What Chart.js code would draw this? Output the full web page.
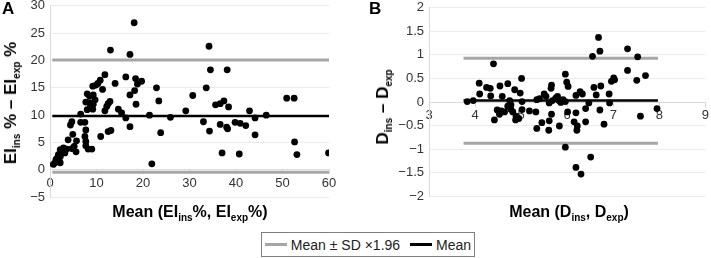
<!DOCTYPE html>
<html>
<head>
<meta charset="utf-8">
<script src="https://cdn.jsdelivr.net/npm/chart.js@4"></script>
<style>
  body { margin: 0; background: #fff; width: 711px; height: 258px; overflow: hidden; position: relative; font-family: "Liberation Sans", Arial, sans-serif; }
  canvas { position: absolute; }
  .lbl { position: absolute; font-weight: bold; color: #000; white-space: nowrap; }
  .panel { font-size: 17px; }
  .ytitle { font-size: 17px; transform: translate(-50%, -50%) rotate(-90deg); }
  .xtitle { font-size: 16px; transform: translate(-50%, -50%); }
  sub { font-size: 10px; vertical-align: -4px; line-height: 0; }
  #legend { position: absolute; left: 261px; top: 232px; width: 212px; height: 23px; border: 1px solid #808080; font-size: 14px; color: #222; display: flex; align-items: center; justify-content: center; }
  .sw { display: inline-block; width: 22px; height: 3px; margin: 0 4px 0 0; }
</style>
</head>
<body>
<canvas id="chartA" style="left:0px; top:-7px; width:345px; height:217px" width="345" height="217"></canvas>
<canvas id="chartB" style="left:360px; top:-5px; width:351px; height:214px" width="351" height="214"></canvas>

<div class="lbl panel" style="left:2px; top:-1px">A</div>
<div class="lbl panel" style="left:369px; top:-1px">B</div>
<div class="lbl ytitle" style="left:11px; top:103px">EI<sub>ins</sub> % – EI<sub>exp</sub> %</div>
<div class="lbl ytitle" style="left:383px; top:107px">D<sub>ins</sub> – D<sub>exp</sub></div>
<div class="lbl xtitle" style="left:190px; top:212px">Mean (EI<sub>ins</sub>%, EI<sub>exp</sub>%)</div>
<div class="lbl xtitle" style="left:569px; top:212px">Mean (D<sub>ins</sub>, D<sub>exp</sub>)</div>
<div id="legend">
  <span class="sw" style="background:#a6a6a6"></span><span>Mean ± SD ×1.96</span>
  <span class="sw" style="background:#000; margin-left:10px"></span><span>Mean</span>
</div>

<script>
// panel A: EI% (mean of both, difference)
const meanEI = [11.8, 10.8, 10.3, 9.2, 9.9, 11.3, 14.0, 16.3,
  8.0, 8.5, 9.3, 7.7, 8.5, 9.3, 9.7, 8.7, 8.0, 9.2,
  12.9, 12.5, 12.2, 11.8, 6.6, 14.7, 15.4, 16.3,
  4.7, 4.4, 6.6, 7.5, 7.7, 4.9, 7.5, 3.9, 5.7, 7.7, 7.7,
  10.9, 12.5, 13.1, 2.9, 2.2, 3.6, 4.7, 5.2, 5.6, 8.2, 9.0,
  2.5, 1.8, 3.2, 1.6, 2.2, 1.3, 1.1, 0.7, 2.2, 13.0,
  18.1, 17.2, 34.2, 34.5, 38.1, 18.4, 19.7, 18.8, 18.2, 17.2, 22.9, 23.4, 18.5, 33.6, 30.7, 29.2,
  21.4, 25.9, 17.2, 23.8, 33.0, 34.3, 35.6, 36.6, 37.4, 38.4, 36.6, 38.0, 38.2, 37.0, 21.9,
  39.8, 40.9, 42.1, 50.9, 52.5, 42.9, 44.1, 46.5, 44.1, 52.6, 40.7, 53.1, 59.9]
const diffEI = [17.4, 16.4, 15.8, 15.3, 15.5, 14.7, 15.8, 17.0,
  13.9, 13.5, 13.7, 12.4, 12.3, 12.0, 12.8, 11.5, 11.0, 11.1,
  12.5, 12.1, 11.6, 10.8, 10.2, 11.1, 10.4, 9.5,
  8.8, 8.2, 8.7, 8.7, 7.3, 6.5, 6.1, 5.5, 5.3, 5.2, 4.4,
  6.1, 7.0, 7.2, 4.0, 3.7, 3.8, 3.9, 4.3, 3.3, 3.8, 3.8,
  3.0, 2.8, 3.1, 2.2, 2.4, 1.9, 1.3, 1.0, 1.3, 21.9,
  26.9, 21.1, 22.6, 18.3, 18.3, 16.7, 16.2, 15.7, 14.5, 13.7, 15.0, 12.6, 12.0, 15.0, 13.6, 10.8,
  10.0, 9.6, 7.9, 6.8, 8.8, 7.1, 11.9, 12.1, 12.6, 11.5, 8.3, 7.8, 7.5, 3.1, 1.1,
  8.7, 8.5, 8.1, 13.1, 13.1, 10.8, 9.5, 10.0, 6.4, 5.1, 2.9, 2.8, 3.1]
const rangeEI = [0.5, 60]
const limitsEI = { upper: 20.1, mean: 9.85, lower: -0.45 }
const ticksEI = { x: [0, 60, 10], y: [-5, 30, 5] }

// panel B: D (mean of both, difference)
const meanD = [3.83, 3.96, 4.40, 4.09, 4.10, 4.25, 4.33, 4.34, 4.54, 4.59, 4.71, 4.86, 4.98, 5.01, 5.02,
  4.75, 4.78, 4.71, 4.78, 4.48, 4.57, 4.64, 4.82, 4.53, 4.89, 4.42, 4.88, 4.95, 5.02,
  5.18, 5.32, 5.34, 5.45, 5.60, 5.61, 5.66, 5.34, 5.40, 5.50, 5.54, 5.65, 5.66, 5.61, 5.68, 5.75,
  5.79, 5.82, 5.86, 5.91, 5.96, 5.83, 5.96, 5.99, 6.02, 6.01, 5.96, 6.19, 6.28, 6.33, 6.19, 6.15,
  6.22, 6.21, 6.40, 6.47, 6.40, 6.58, 6.63, 6.73, 6.71, 6.80, 6.91, 6.92, 6.96, 7.01, 7.03,
  6.55, 6.71, 7.31, 7.31, 7.53, 7.51, 7.70, 7.59, 7.95, 6.51, 6.19, 6.30, 6.68]
const diffD = [0.01, 0.03, 0.81, 0.40, 0.17, 0.31, 0.29, 0.13, 0.34, 0.12, 0.39, 0.26, 0.19, 0.50, 0.01,
  0.03, -0.06, -0.09, -0.16, -0.17, -0.19, -0.21, -0.21, -0.26, -0.30, -0.38, -0.38, -0.35, -0.16,
  -0.19, -0.21, -0.56, -0.44, -0.60, -0.40, -0.26, 0.05, 0.07, 0.17, 0.12, 0.29, 0.36, -0.02, 0.03, 0.08,
  0.12, 0.03, -0.01, 0.05, 0.01, -0.51, 0.59, 0.42, 0.33, -0.21, -0.96, 0.14, 0.22, 0.17, -0.23, -0.42,
  -0.51, -0.60, -0.42, -0.02, -0.14, 0.31, 0.15, 0.34, -0.17, -0.47, 0.17, -0.02, 0.44, 0.51, 0.47,
  0.97, 1.08, 1.13, 0.67, 0.96, 0.46, 0.56, -0.30, -0.14, -1.17, -1.39, -1.53, 1.37]
const rangeD = [3.75, 7.97]
const limitsD = { upper: 0.93, mean: 0.03, lower: -0.875 }
const ticksD = { x: [3, 9, 1], y: [-2, 2, 0.5] }

const font = { family: 'Liberation Sans', size: 13 }
const minus = (v) => v < 0 ? '\u2212' + Math.abs(v) : '' + v

const hline = (y, range, color, width) => ({
  type: 'line',
  data: [{ x: range[0], y: y }, { x: range[1], y: y }],
  borderColor: color,
  borderWidth: width,
  pointRadius: 0,
  fill: false
})

const makeChart = (id, xs, ys, range, limits, t, yWidth, pad) => {
  const points = xs.map((x, i) => ({ x: x, y: ys[i] }))
  const config = {
    type: 'scatter',
    data: {
      datasets: [
        { data: points, backgroundColor: '#000', borderWidth: 0, pointRadius: 3.4, order: 0 },
        Object.assign(hline(limits.upper, range, '#a6a6a6', 3), { order: 1 }),
        Object.assign(hline(limits.lower, range, '#a6a6a6', 3), { order: 1 }),
        Object.assign(hline(limits.mean, range, '#000', 2.5), { order: 1 })
      ]
    },
    options: {
      animation: false,
      responsive: false,
      layout: { padding: pad },
      scales: {
        x: {
          type: 'linear',
          position: { y: 0 },
          min: t.x[0], max: t.x[1],
          grid: { drawOnChartArea: false, color: '#d9d9d9', tickLength: 4 },
          border: { color: '#d9d9d9' },
          ticks: { stepSize: t.x[2], color: '#333', font: font, padding: 2 },
          afterFit: (scale) => { scale.height = 0 }
        },
        y: {
          min: t.y[0], max: t.y[1],
          grid: { color: '#ebebeb', drawTicks: false },
          border: { color: '#d9d9d9' },
          ticks: { stepSize: t.y[2], color: '#333', font: font, padding: 5, callback: minus },
          afterFit: (scale) => { scale.width = yWidth }
        }
      },
      plugins: { legend: { display: false }, tooltip: { enabled: false } }
    }
  }
  return new Chart(document.getElementById(id).getContext('2d'), config)
}

makeChart('chartA', meanEI, diffEI, rangeEI, limitsEI, ticksEI, 50, { top: 8, right: 16, bottom: 9, left: 0 })
makeChart('chartB', meanD, diffD, rangeD, limitsD, ticksD, 69, { top: 8, right: 2, bottom: 9, left: 0 })
</script>
</body>
</html>
